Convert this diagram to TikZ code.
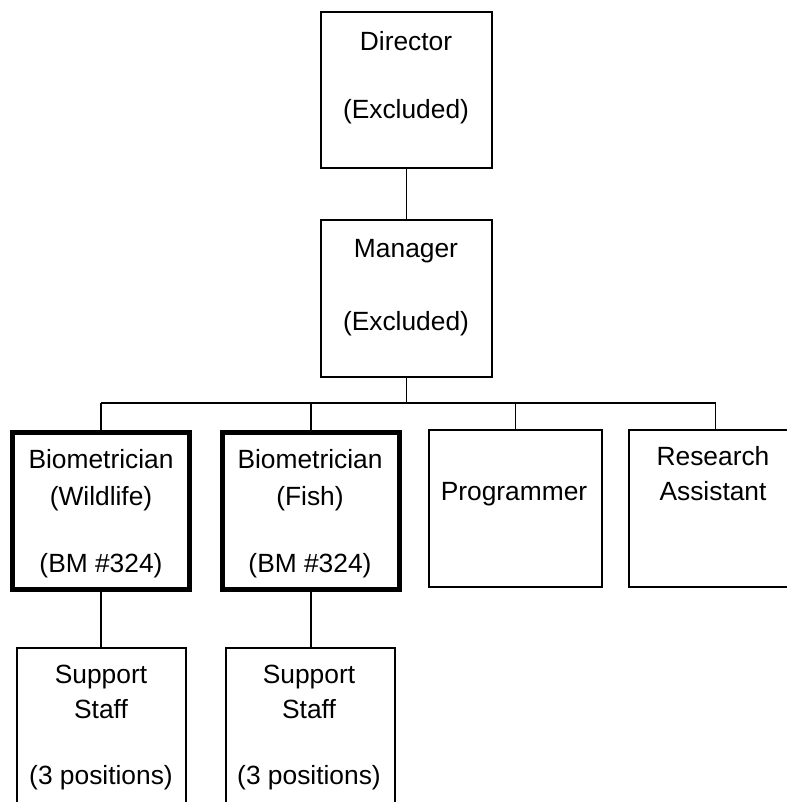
\documentclass[tikz,border=0pt]{standalone}
\usepackage{fontspec}
\setmainfont{Liberation Sans}
\usepackage{tikz}
\usetikzlibrary{calc}
\tikzset{
	box/.style={draw, line width=0.75pt, inner sep=0, outer sep=0},
	boldbox/.style={draw, line width=2.8pt, inner sep=0, outer sep=0},
	txt/.style={anchor=base, inner sep=0, font=\fontsize{15}{18}\selectfont},
	wire/.style={line width=0.75pt}
}

\begin{document}
\begin{tikzpicture}[x=0.02cm, y=-0.02cm]
			%%%%% START %%%%%
			
			\useasboundingbox (0, 0) rectangle (787, 802);
			
			\node[box, minimum width=3.42cm, minimum height=3.12cm] (dir) at (406.5, 90) {};
			\node[txt] (dirA) at (406, 50) {Director};
			\node[txt] (dirB) at (406, 118) {(Excluded)};
			
			\node[box, minimum width=3.42cm, minimum height=3.14cm] (mgr) at (406.5, 298.5) {};
			\node[txt] (mgrA) at (406, 257) {Manager};
			\node[txt] (mgrB) at (406, 330) {(Excluded)};
			
			\node[boldbox, minimum width=3.54cm, minimum height=3.14cm] (bwild) at (101, 511) {};
			\node[txt] (bwildA) at (101, 468) {Biometrician};
			\node[txt] (bwildB) at (101, 505) {(Wildlife)};
			\node[txt] (bwildC) at (101, 572) {(BM \#324)};
			
			\node[boldbox, minimum width=3.54cm, minimum height=3.14cm] (bfish) at (311, 511) {};
			\node[txt] (bfishA) at (310, 468) {Biometrician};
			\node[txt] (bfishB) at (310, 505) {(Fish)};
			\node[txt] (bfishC) at (310, 572) {(BM \#324)};
			
			\node[box, minimum width=3.46cm, minimum height=3.14cm] (prog) at (515.5, 508.5) {};
			\node[txt] (progA) at (514, 500) {Programmer};
			
			\node[box, minimum width=3.46cm, minimum height=3.14cm] (rsrch) at (715.5, 508.5) {};
			\node[txt] (rsrchA) at (713, 465) {Research};
			\node[txt] (rsrchB) at (713, 500) {Assistant};
			
			\node[box, minimum width=3.38cm, minimum height=3.14cm] (supA) at (101.5, 726.5) {};
			\node[txt] (supAa) at (101, 683) {Support};
			\node[txt] (supAb) at (101, 718) {Staff};
			\node[txt] (supAc) at (101, 784) {(3 positions)};
			
			\node[box, minimum width=3.38cm, minimum height=3.14cm] (supB) at (310.5, 726.5) {};
			\node[txt] (supBa) at (309, 683) {Support};
			\node[txt] (supBb) at (309, 718) {Staff};
			\node[txt] (supBc) at (309, 784) {(3 positions)};
			
			% connectors
			\coordinate (bus) at (100, 403);
			\draw[wire] (dir.south) -- (mgr.north);
			\draw[wire] (mgr.south) -- (mgr.south |- bus);
			\draw[wire] (bwild.north |- bus) -- (rsrch.north |- bus);
			\foreach \b in {bwild, bfish, prog, rsrch}
				\draw[wire] (\b.north) -- (\b.north |- bus);
			\draw[wire] (bwild.south) -- (bwild.south |- supA.north);
			\draw[wire] (bfish.south) -- (bfish.south |- supB.north);
			
			%%%%% END %%%%%
\end{tikzpicture}
\end{document}
